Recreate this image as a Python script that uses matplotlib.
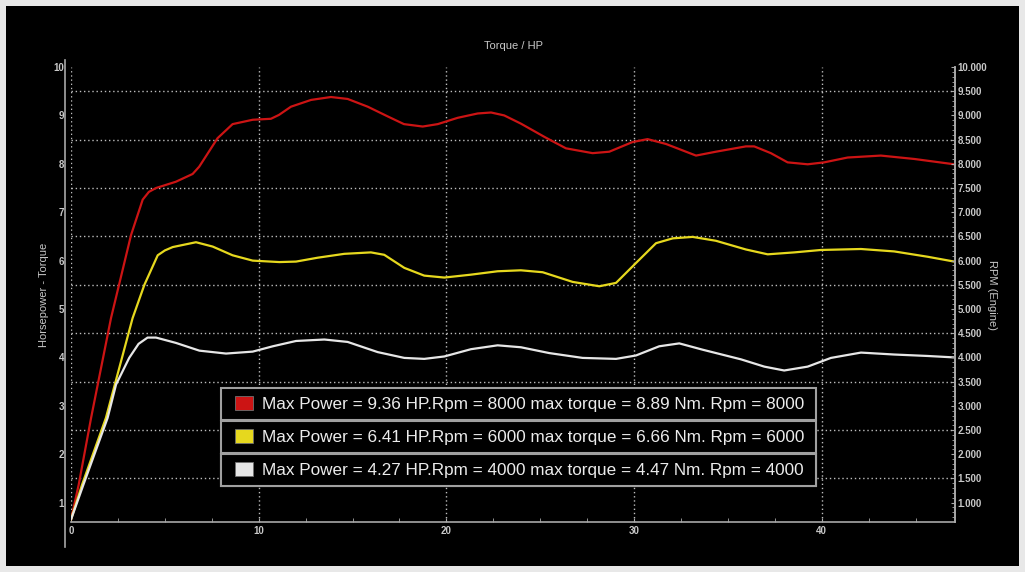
import numpy as np
import matplotlib
matplotlib.use("Agg")
import matplotlib.pyplot as plt
from matplotlib.patches import Patch, Rectangle
from matplotlib.legend_handler import HandlerPatch

plt.rcParams['font.family'] = ['Liberation Sans', 'DejaVu Sans']

# curves (x = engine position, y = hp / torque)
red_x = [0, 0.41, 1.07, 2.13, 3.2, 3.82, 4.15, 4.53, 5.59, 6.48, 6.83, 7.81, 8.61, 9.68, 10.65,
         11.08, 11.72, 12.79, 13.85, 14.74, 15.81, 16.87, 17.74, 18.74, 19.54, 20.6, 21.67,
         22.38, 23.08, 23.97, 25.3, 26.37, 27.79, 28.68, 29.92, 30.72, 31.7, 33.3, 34.36,
         35.96, 36.4, 37.29, 38.18, 39.25, 40.13, 41.38, 43.15, 44.93, 47.06]
red_y = [0.65, 1.37, 2.75, 4.81, 6.53, 7.26, 7.42, 7.5, 7.63, 7.79, 7.94, 8.53, 8.82, 8.91, 8.93,
         9.01, 9.18, 9.32, 9.38, 9.34, 9.18, 8.98, 8.82, 8.77, 8.82, 8.95, 9.04,
         9.06, 9.0, 8.83, 8.54, 8.32, 8.22, 8.25, 8.45, 8.51, 8.41, 8.17, 8.25,
         8.36, 8.36, 8.22, 8.03, 7.99, 8.03, 8.13, 8.17, 8.1, 7.99]

yellow_x = [0, 0.59, 1.86, 3.28, 3.91, 4.62, 5.0, 5.42, 6.66, 7.55, 8.61, 9.68, 11.1, 11.99,
            13.14, 14.56, 15.98, 16.69, 17.76, 18.82, 19.89, 21.31, 22.73, 23.97, 25.13,
            26.73, 28.15, 29.04, 30.1, 31.17, 32.06, 33.12, 34.36, 35.96, 37.12, 38.54,
            39.96, 42.09, 43.86, 45.64, 47.06]
yellow_y = [0.65, 1.37, 2.75, 4.81, 5.5, 6.11, 6.21, 6.28, 6.38, 6.29, 6.11, 6.0, 5.97, 5.98,
            6.06, 6.14, 6.17, 6.12, 5.85, 5.69, 5.65, 5.71, 5.78, 5.8, 5.76,
            5.56, 5.47, 5.54, 5.95, 6.36, 6.46, 6.49, 6.41, 6.23, 6.13, 6.17,
            6.22, 6.24, 6.19, 6.08, 5.98]

white_x = [0, 0.66, 1.95, 2.4, 3.1, 3.6, 4.08, 4.53, 5.59, 6.84, 8.26, 9.68, 10.75, 11.99,
           13.5, 14.74, 16.34, 17.76, 18.82, 19.89, 21.31, 22.73, 23.97, 25.48, 27.26,
           29.04, 30.1, 31.34, 32.41, 33.65, 35.7, 36.94, 38.0, 39.25, 40.49, 42.09,
           43.86, 45.64, 47.06]
white_y = [0.65, 1.37, 2.75, 3.44, 3.99, 4.28, 4.41, 4.41, 4.3, 4.14, 4.08, 4.12, 4.23, 4.34,
           4.37, 4.32, 4.11, 3.99, 3.97, 4.02, 4.17, 4.25, 4.21, 4.09, 3.99,
           3.97, 4.04, 4.23, 4.29, 4.16, 3.96, 3.81, 3.73, 3.81, 3.99, 4.1,
           4.06, 4.03, 4.0]

labels = ["Max Power = 9.36 HP.Rpm = 8000 max torque = 8.89 Nm. Rpm = 8000",
          "Max Power = 6.41 HP.Rpm = 6000 max torque = 6.66 Nm. Rpm = 6000",
          "Max Power = 4.27 HP.Rpm = 4000 max torque = 4.47 Nm. Rpm = 4000"]
colors = ['#cc1414', '#e6d81e', '#e6e6e6']

hp_ticks = list(range(1, 11))
rpm_ticks = list(range(1000, 10001, 500))
x_ticks = [0, 10, 20, 30, 40]

fg = '#c8c8c8'
spine_c = '#a8a8a8'


def swatch(legend, orig_handle, xdescent, ydescent, width, height, fontsize):
    # 13x10 pt colour box sitting at the right of the handle box
    return Rectangle((width - 13 - xdescent, (height - 10) / 2 - ydescent), 13, 10)


fig = plt.figure(figsize=(10.25, 5.72), dpi=100, facecolor='#e8e8e8')
fig.patches.append(Rectangle((6 / 1025, 6 / 572), 1013 / 1025, 560 / 572,
                             transform=fig.transFigure, facecolor='black',
                             edgecolor='none', zorder=-10))

ax = fig.add_axes([71 / 1025, 50 / 572, 884 / 1025, 455 / 572])
ax.set_facecolor('black')

for xs, ys, c in zip([red_x, yellow_x, white_x], [red_y, yellow_y, white_y], colors):
    ax.plot(xs, ys, color=c, lw=1.6, solid_capstyle='round', solid_joinstyle='round')

ax.set_xlim(0, 47.1)
ax.set_ylim(0.6, 10)

ax.set_xticks(x_ticks)
ax.set_xticks(np.arange(0, 47.1, 2.5), minor=True)
ax.set_yticks(hp_ticks)
ax.set_yticks(np.arange(1, 10.01, 0.5), minor=True)

ax.grid(True, which='major', axis='x', color='#bdbdbd', ls=(0, (1, 2)), lw=1)
ax.grid(True, which='minor', axis='y', color='#bdbdbd', ls=(0, (1, 2)), lw=1)
ax.set_axisbelow(True)

ax.spines['top'].set_visible(False)
ax.spines['left'].set_position(('outward', 4))
ax.spines['left'].set_bounds(0.09, 10.15)
for s in ['left', 'bottom', 'right']:
    ax.spines[s].set_color(spine_c)
    ax.spines[s].set_linewidth(1.2)

ax.tick_params(axis='x', which='both', direction='in', colors=spine_c, length=3,
               labelcolor=fg, labelsize=7, pad=3)
ax.tick_params(axis='y', which='both', length=0, labelcolor=fg, labelsize=7, pad=1)
for t in ax.get_xticklabels() + ax.get_yticklabels():
    t.set_fontweight('bold')

ax.set_ylabel("Horsepower - Torque", color=fg, fontsize=8, labelpad=3)
ax.set_title("Torque / HP", color=fg, fontsize=8, pad=13)

ax2 = ax.twinx()
ax2.set_ylim(600, 10000)
ax2.set_yticks(rpm_ticks)
ax2.set_yticklabels([f"{v:,}".replace(",", ".") for v in rpm_ticks])
ax2.set_yticks(np.arange(700, 10001, 100), minor=True)
ax2.tick_params(axis='y', which='major', direction='in', length=3, colors=spine_c,
                labelcolor=fg, labelsize=7, pad=2)
ax2.tick_params(axis='y', which='minor', direction='in', length=2, colors=spine_c)
for t in ax2.get_yticklabels():
    t.set_fontweight('bold')
for s in ['top', 'left', 'bottom']:
    ax2.spines[s].set_visible(False)
ax2.spines['right'].set_color(spine_c)
ax2.spines['right'].set_linewidth(1.2)
ax2.set_ylabel("RPM (Engine)", color=fg, fontsize=8, rotation=270, labelpad=7)

# legend: three stacked boxed rows
row_h = 33 / 455
x0 = (221 - 71) / 884
w = (816 - 221) / 884
top = (522 - 388) / 455
for i, (lab, c) in enumerate(zip(labels, colors)):
    handle = Patch(facecolor=c, edgecolor='#707070', lw=0.6)
    leg = ax2.legend([handle], [lab], loc='upper left', mode='expand',
                     bbox_to_anchor=(x0, top - (i + 1) * row_h, w, row_h),
                     borderaxespad=0, borderpad=0.48, handlelength=1.41,
                     handleheight=0.8, handletextpad=0.53, fontsize=12.3,
                     handler_map={Patch: HandlerPatch(patch_func=swatch)},
                     frameon=True, fancybox=False, framealpha=1,
                     facecolor='black', edgecolor='#a0a0a0', labelcolor='#ececec')
    leg.get_frame().set_linewidth(1.5)
    ax2.add_artist(leg)

fig.savefig("out.png", dpi=100, facecolor=fig.get_facecolor())
